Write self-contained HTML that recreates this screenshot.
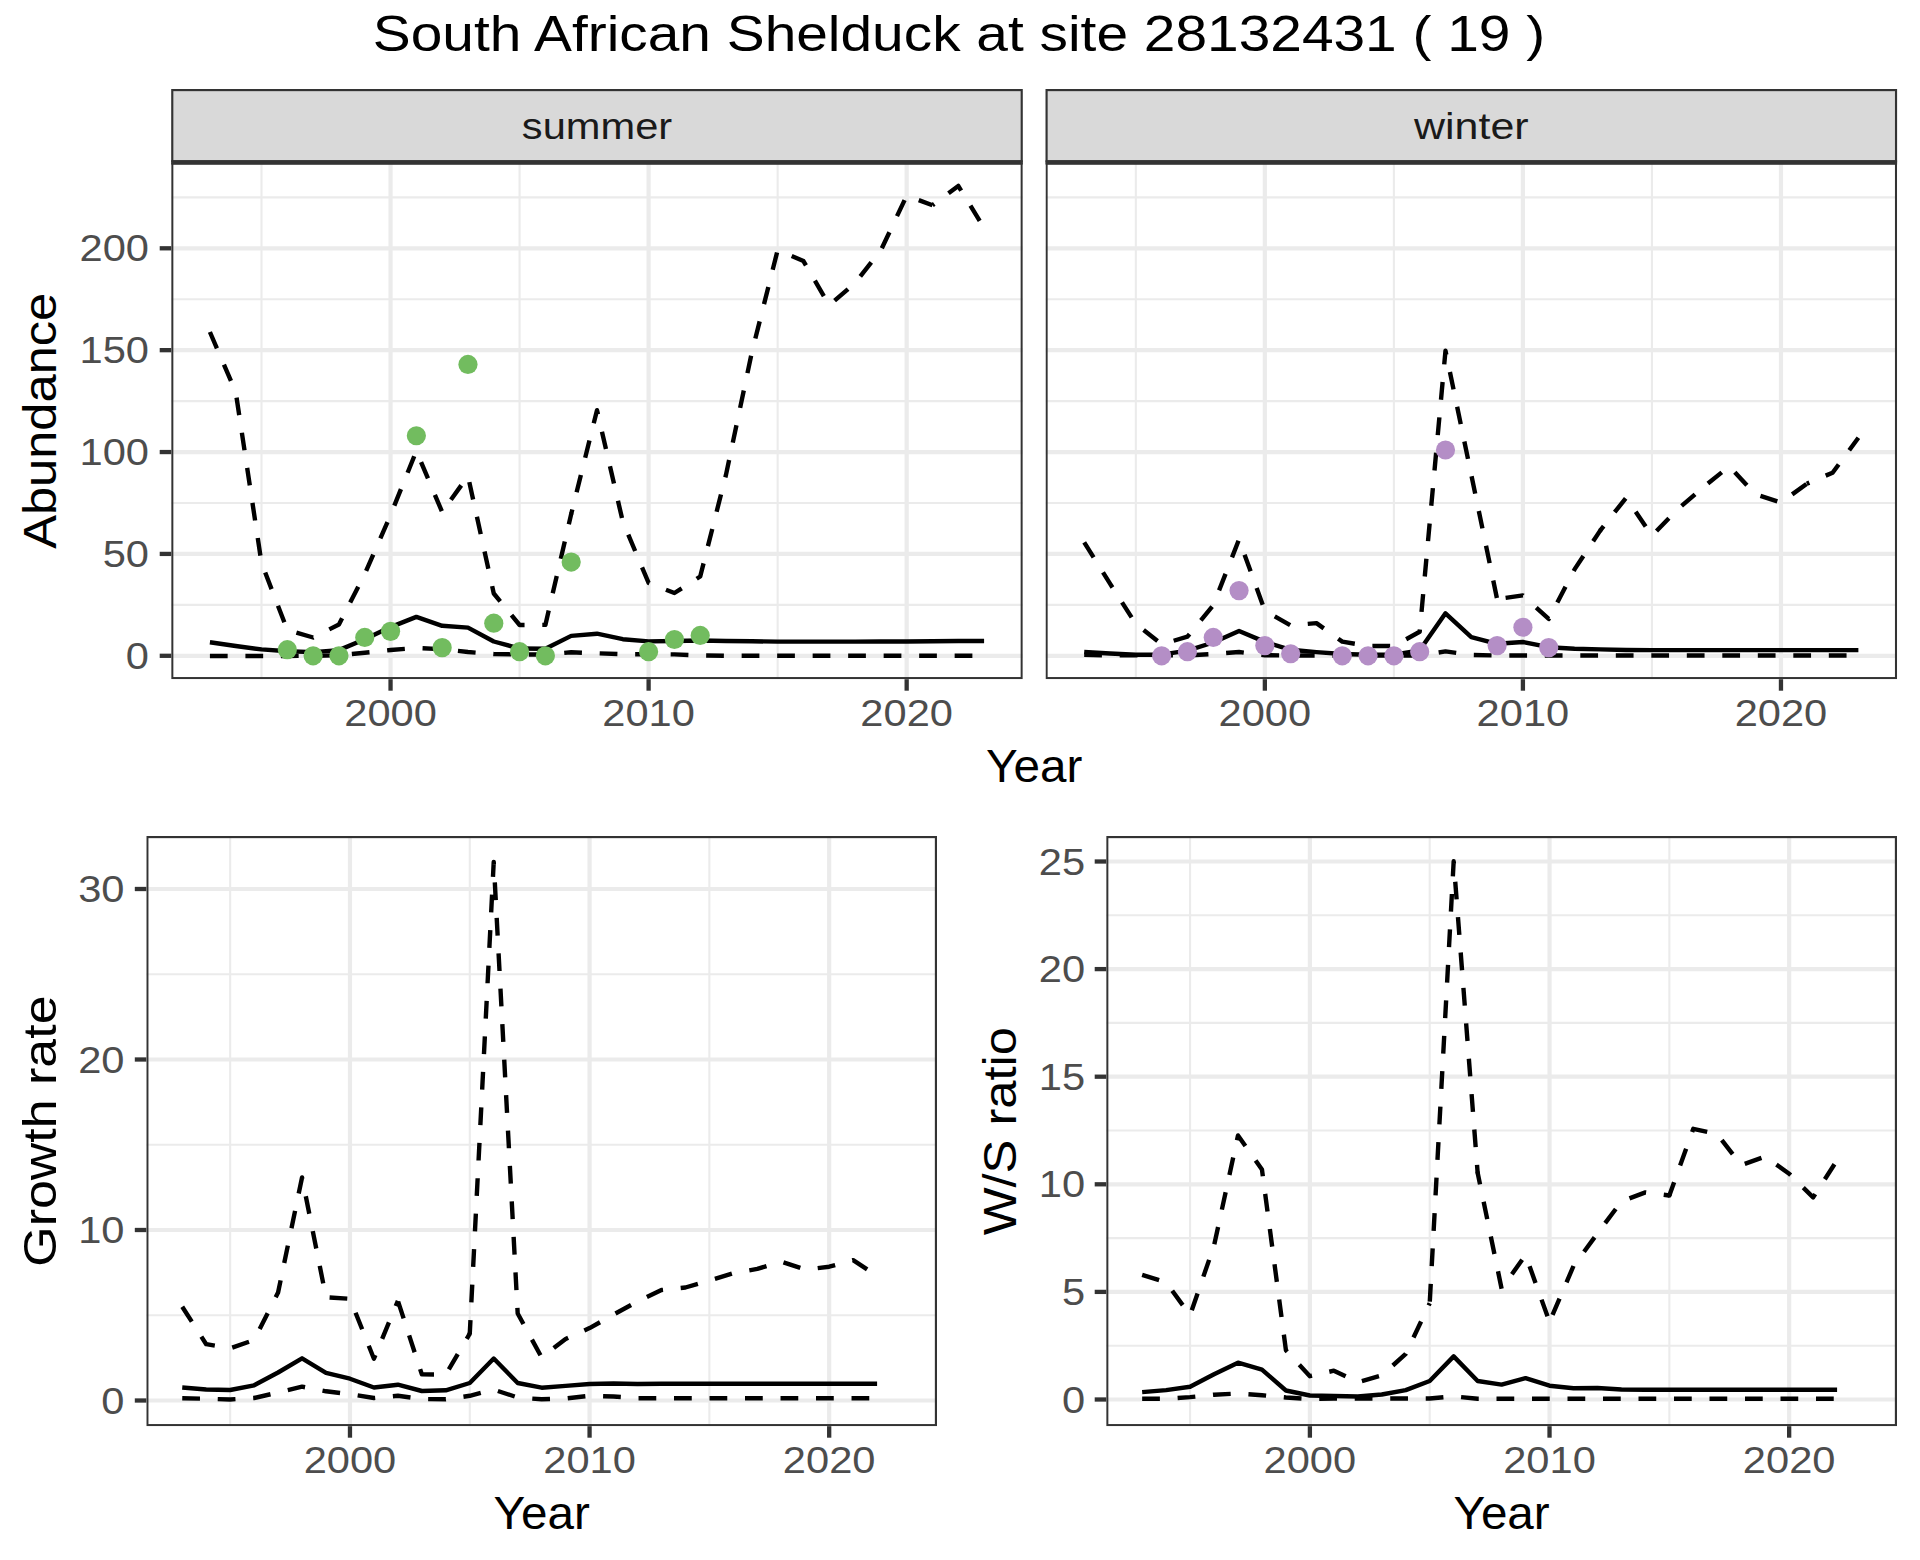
<!DOCTYPE html><html><head><meta charset="utf-8"><style>html,body{margin:0;padding:0;background:#fff;width:1920px;height:1560px;overflow:hidden}svg{display:block}text{font-family:"Liberation Sans", sans-serif}</style></head><body>
<svg width="1920" height="1560" viewBox="0 0 1920 1560">
<rect width="1920" height="1560" fill="#fff"/>
<text x="959.00" y="51.00" font-size="50.0" fill="#000" text-anchor="middle" textLength="1172.40" lengthAdjust="spacingAndGlyphs">South African Shelduck at site 28132431 ( 19 )</text>
<clipPath id="c1"><rect x="171.2" y="162.4" width="851.60" height="516.80"/></clipPath>
<g clip-path="url(#c1)">
<line x1="171.2" x2="1022.8" y1="604.86" y2="604.86" stroke="#EBEBEB" stroke-width="2.1"/>
<line x1="171.2" x2="1022.8" y1="502.99" y2="502.99" stroke="#EBEBEB" stroke-width="2.1"/>
<line x1="171.2" x2="1022.8" y1="401.11" y2="401.11" stroke="#EBEBEB" stroke-width="2.1"/>
<line x1="171.2" x2="1022.8" y1="299.24" y2="299.24" stroke="#EBEBEB" stroke-width="2.1"/>
<line x1="171.2" x2="1022.8" y1="197.36" y2="197.36" stroke="#EBEBEB" stroke-width="2.1"/>
<line x1="261.52" x2="261.52" y1="162.4" y2="679.2" stroke="#EBEBEB" stroke-width="2.1"/>
<line x1="519.58" x2="519.58" y1="162.4" y2="679.2" stroke="#EBEBEB" stroke-width="2.1"/>
<line x1="777.64" x2="777.64" y1="162.4" y2="679.2" stroke="#EBEBEB" stroke-width="2.1"/>
<line x1="171.2" x2="1022.8" y1="655.80" y2="655.80" stroke="#EBEBEB" stroke-width="4.2"/>
<line x1="171.2" x2="1022.8" y1="553.92" y2="553.92" stroke="#EBEBEB" stroke-width="4.2"/>
<line x1="171.2" x2="1022.8" y1="452.05" y2="452.05" stroke="#EBEBEB" stroke-width="4.2"/>
<line x1="171.2" x2="1022.8" y1="350.17" y2="350.17" stroke="#EBEBEB" stroke-width="4.2"/>
<line x1="171.2" x2="1022.8" y1="248.30" y2="248.30" stroke="#EBEBEB" stroke-width="4.2"/>
<line x1="390.55" x2="390.55" y1="162.4" y2="679.2" stroke="#EBEBEB" stroke-width="4.2"/>
<line x1="648.61" x2="648.61" y1="162.4" y2="679.2" stroke="#EBEBEB" stroke-width="4.2"/>
<line x1="906.67" x2="906.67" y1="162.4" y2="679.2" stroke="#EBEBEB" stroke-width="4.2"/>
<polyline points="209.91,332.00 235.72,392.00 261.52,563.00 287.33,630.00 313.13,637.50 338.94,624.50 364.75,574.00 390.55,515.00 416.36,451.00 442.16,512.00" fill="none" stroke="#000" stroke-width="4.4" stroke-linejoin="round" stroke-linecap="butt" stroke-dasharray="17.75 17.75" stroke-dashoffset="0.00"/>
<polyline points="442.16,512.00 467.97,476.00 493.78,593.50 519.58,625.00 545.39,624.90 571.19,514.00" fill="none" stroke="#000" stroke-width="4.4" stroke-linejoin="round" stroke-linecap="butt" stroke-dasharray="17.75 17.75" stroke-dashoffset="20.46"/>
<polyline points="571.19,514.00 597.00,410.20 622.81,521.70 648.61,582.90 674.42,593.00 700.22,576.50 726.03,474.60 751.84,352.40 777.64,250.10 803.45,261.10 829.25,305.30 855.06,283.00 880.87,250.30 906.67,195.70 932.48,205.20" fill="none" stroke="#000" stroke-width="4.4" stroke-linejoin="round" stroke-linecap="butt" stroke-dasharray="17.75 17.75" stroke-dashoffset="13.04"/>
<circle cx="571.19" cy="514.00" r="2.2" fill="#000"/>
<polyline points="932.48,205.20 958.28,185.90 984.09,228.00" fill="none" stroke="#000" stroke-width="4.4" stroke-linejoin="round" stroke-linecap="butt" stroke-dasharray="17.75 17.75" stroke-dashoffset="15.53"/>
<polyline points="209.91,656.00 235.72,656.00 261.52,656.00 287.33,656.00 313.13,655.80 338.94,655.30 364.75,652.80 390.55,650.00 416.36,648.00 442.16,649.20 467.97,652.00 493.78,654.00 519.58,654.50 545.39,654.50 571.19,652.30 597.00,653.30 622.81,654.20 648.61,654.20 674.42,654.40 700.22,655.40 726.03,655.80 751.84,655.80 777.64,655.80 803.45,655.80 829.25,655.80 855.06,655.80 880.87,655.80 906.67,655.80 932.48,655.80 958.28,655.80 984.09,655.80" fill="none" stroke="#000" stroke-width="4.4" stroke-linejoin="round" stroke-linecap="butt" stroke-dasharray="17.75 17.75" stroke-dashoffset="0.00"/>
<polyline points="209.91,642.20 235.72,646.00 261.52,649.40 287.33,651.20 313.13,652.10 338.94,650.10 364.75,639.30 390.55,627.10 416.36,616.90 442.16,625.80 467.97,627.60 493.78,641.50 519.58,648.50 545.39,648.70 571.19,635.90 597.00,633.70 622.81,639.20 648.61,641.40 674.42,641.00 700.22,640.50 726.03,641.00 751.84,641.30 777.64,641.60 803.45,641.60 829.25,641.60 855.06,641.60 880.87,641.50 906.67,641.50 932.48,641.30 958.28,641.00 984.09,641.00" fill="none" stroke="#000" stroke-width="4.4" stroke-linejoin="round" stroke-linecap="butt"/>
<circle cx="287.33" cy="649.69" r="9.6" fill="#72BC5F"/>
<circle cx="313.13" cy="655.80" r="9.6" fill="#72BC5F"/>
<circle cx="338.94" cy="655.80" r="9.6" fill="#72BC5F"/>
<circle cx="364.75" cy="637.46" r="9.6" fill="#72BC5F"/>
<circle cx="390.55" cy="631.35" r="9.6" fill="#72BC5F"/>
<circle cx="416.36" cy="435.75" r="9.6" fill="#72BC5F"/>
<circle cx="442.16" cy="647.65" r="9.6" fill="#72BC5F"/>
<circle cx="467.97" cy="364.44" r="9.6" fill="#72BC5F"/>
<circle cx="493.78" cy="623.20" r="9.6" fill="#72BC5F"/>
<circle cx="519.58" cy="651.72" r="9.6" fill="#72BC5F"/>
<circle cx="545.39" cy="655.80" r="9.6" fill="#72BC5F"/>
<circle cx="571.19" cy="562.07" r="9.6" fill="#72BC5F"/>
<circle cx="648.61" cy="651.72" r="9.6" fill="#72BC5F"/>
<circle cx="674.42" cy="639.50" r="9.6" fill="#72BC5F"/>
<circle cx="700.22" cy="635.42" r="9.6" fill="#72BC5F"/>
<rect x="172.27" y="163.47" width="849.45" height="514.65" fill="none" stroke="#333333" stroke-width="2.15"/>
</g>
<line x1="390.55" x2="390.55" y1="679.2" y2="690.7" stroke="#333333" stroke-width="4.3"/>
<text x="390.55" y="725.60" font-size="36.4" fill="#4D4D4D" text-anchor="middle" textLength="92.63" lengthAdjust="spacingAndGlyphs">2000</text>
<line x1="648.61" x2="648.61" y1="679.2" y2="690.7" stroke="#333333" stroke-width="4.3"/>
<text x="648.61" y="725.60" font-size="36.4" fill="#4D4D4D" text-anchor="middle" textLength="92.63" lengthAdjust="spacingAndGlyphs">2010</text>
<line x1="906.67" x2="906.67" y1="679.2" y2="690.7" stroke="#333333" stroke-width="4.3"/>
<text x="906.67" y="725.60" font-size="36.4" fill="#4D4D4D" text-anchor="middle" textLength="92.63" lengthAdjust="spacingAndGlyphs">2020</text>
<line x1="159.7" x2="171.2" y1="655.80" y2="655.80" stroke="#333333" stroke-width="4.3"/>
<text x="149.00" y="668.80" font-size="36.4" fill="#4D4D4D" text-anchor="end" textLength="23.16" lengthAdjust="spacingAndGlyphs">0</text>
<line x1="159.7" x2="171.2" y1="553.92" y2="553.92" stroke="#333333" stroke-width="4.3"/>
<text x="149.00" y="566.92" font-size="36.4" fill="#4D4D4D" text-anchor="end" textLength="46.32" lengthAdjust="spacingAndGlyphs">50</text>
<line x1="159.7" x2="171.2" y1="452.05" y2="452.05" stroke="#333333" stroke-width="4.3"/>
<text x="149.00" y="465.05" font-size="36.4" fill="#4D4D4D" text-anchor="end" textLength="69.48" lengthAdjust="spacingAndGlyphs">100</text>
<line x1="159.7" x2="171.2" y1="350.17" y2="350.17" stroke="#333333" stroke-width="4.3"/>
<text x="149.00" y="363.17" font-size="36.4" fill="#4D4D4D" text-anchor="end" textLength="69.48" lengthAdjust="spacingAndGlyphs">150</text>
<line x1="159.7" x2="171.2" y1="248.30" y2="248.30" stroke="#333333" stroke-width="4.3"/>
<text x="149.00" y="261.30" font-size="36.4" fill="#4D4D4D" text-anchor="end" textLength="69.48" lengthAdjust="spacingAndGlyphs">200</text>
<clipPath id="c2"><rect x="1045.5" y="162.4" width="851.60" height="516.80"/></clipPath>
<g clip-path="url(#c2)">
<line x1="1045.5" x2="1897.1" y1="604.86" y2="604.86" stroke="#EBEBEB" stroke-width="2.1"/>
<line x1="1045.5" x2="1897.1" y1="502.99" y2="502.99" stroke="#EBEBEB" stroke-width="2.1"/>
<line x1="1045.5" x2="1897.1" y1="401.11" y2="401.11" stroke="#EBEBEB" stroke-width="2.1"/>
<line x1="1045.5" x2="1897.1" y1="299.24" y2="299.24" stroke="#EBEBEB" stroke-width="2.1"/>
<line x1="1045.5" x2="1897.1" y1="197.36" y2="197.36" stroke="#EBEBEB" stroke-width="2.1"/>
<line x1="1135.82" x2="1135.82" y1="162.4" y2="679.2" stroke="#EBEBEB" stroke-width="2.1"/>
<line x1="1393.88" x2="1393.88" y1="162.4" y2="679.2" stroke="#EBEBEB" stroke-width="2.1"/>
<line x1="1651.94" x2="1651.94" y1="162.4" y2="679.2" stroke="#EBEBEB" stroke-width="2.1"/>
<line x1="1045.5" x2="1897.1" y1="655.80" y2="655.80" stroke="#EBEBEB" stroke-width="4.2"/>
<line x1="1045.5" x2="1897.1" y1="553.92" y2="553.92" stroke="#EBEBEB" stroke-width="4.2"/>
<line x1="1045.5" x2="1897.1" y1="452.05" y2="452.05" stroke="#EBEBEB" stroke-width="4.2"/>
<line x1="1045.5" x2="1897.1" y1="350.17" y2="350.17" stroke="#EBEBEB" stroke-width="4.2"/>
<line x1="1045.5" x2="1897.1" y1="248.30" y2="248.30" stroke="#EBEBEB" stroke-width="4.2"/>
<line x1="1264.85" x2="1264.85" y1="162.4" y2="679.2" stroke="#EBEBEB" stroke-width="4.2"/>
<line x1="1522.91" x2="1522.91" y1="162.4" y2="679.2" stroke="#EBEBEB" stroke-width="4.2"/>
<line x1="1780.97" x2="1780.97" y1="162.4" y2="679.2" stroke="#EBEBEB" stroke-width="4.2"/>
<polyline points="1084.21,542.30 1110.02,583.70 1135.82,623.90 1161.63,644.30 1187.43,636.70 1213.24,605.30 1239.05,539.40 1264.85,610.70 1290.66,625.50 1316.46,623.10 1342.27,641.60 1368.08,646.00 1393.88,646.00 1419.69,631.80 1445.49,350.70 1471.30,474.90 1497.11,599.10" fill="none" stroke="#000" stroke-width="4.4" stroke-linejoin="round" stroke-linecap="butt" stroke-dasharray="17.75 17.75" stroke-dashoffset="0.00"/>
<polyline points="1497.11,599.10 1522.91,595.40 1548.72,618.90 1574.52,569.40 1600.33,530.40" fill="none" stroke="#000" stroke-width="4.4" stroke-linejoin="round" stroke-linecap="butt" stroke-dasharray="17.75 17.75" stroke-dashoffset="26.93"/>
<polyline points="1600.33,530.40 1626.14,497.70 1651.94,535.70 1677.75,509.20 1703.55,487.00" fill="none" stroke="#000" stroke-width="4.4" stroke-linejoin="round" stroke-linecap="butt" stroke-dasharray="17.75 17.75" stroke-dashoffset="12.34"/>
<circle cx="1600.33" cy="530.40" r="2.2" fill="#000"/>
<polyline points="1703.55,487.00 1729.36,466.30 1755.17,494.10 1780.97,502.60 1806.78,483.70" fill="none" stroke="#000" stroke-width="4.4" stroke-linejoin="round" stroke-linecap="butt" stroke-dasharray="17.75 17.75" stroke-dashoffset="29.92"/>
<polyline points="1806.78,483.70 1832.58,472.70 1858.39,437.80" fill="none" stroke="#000" stroke-width="4.4" stroke-linejoin="round" stroke-linecap="butt" stroke-dasharray="17.75 17.75" stroke-dashoffset="14.95"/>
<polyline points="1084.21,654.70 1110.02,655.40 1135.82,655.40 1161.63,655.40 1187.43,655.40 1213.24,654.00 1239.05,652.00 1264.85,655.20 1290.66,655.50 1316.46,655.50 1342.27,655.50 1368.08,655.50 1393.88,655.50 1419.69,655.50 1445.49,651.40 1471.30,655.00 1497.11,655.50 1522.91,655.50 1548.72,655.50 1574.52,655.50 1600.33,655.50 1626.14,655.50 1651.94,655.50 1677.75,655.50 1703.55,655.50 1729.36,655.50 1755.17,655.50 1780.97,655.50 1806.78,655.50 1832.58,655.50 1858.39,655.50" fill="none" stroke="#000" stroke-width="4.4" stroke-linejoin="round" stroke-linecap="butt" stroke-dasharray="17.75 17.75" stroke-dashoffset="0.00"/>
<polyline points="1084.21,652.00 1110.02,653.50 1135.82,654.70 1161.63,654.70 1187.43,650.70 1213.24,642.50 1239.05,631.00 1264.85,641.90 1290.66,649.80 1316.46,652.10 1342.27,654.00 1368.08,654.70 1393.88,654.70 1419.69,650.30 1445.49,613.30 1471.30,637.20 1497.11,643.80 1522.91,642.00 1548.72,647.20 1574.52,648.70 1600.33,649.40 1626.14,650.00 1651.94,650.10 1677.75,650.10 1703.55,650.10 1729.36,650.10 1755.17,650.10 1780.97,650.10 1806.78,650.10 1832.58,650.10 1858.39,650.10" fill="none" stroke="#000" stroke-width="4.4" stroke-linejoin="round" stroke-linecap="butt"/>
<circle cx="1161.63" cy="655.80" r="9.6" fill="#B48EC6"/>
<circle cx="1187.43" cy="651.72" r="9.6" fill="#B48EC6"/>
<circle cx="1213.24" cy="637.46" r="9.6" fill="#B48EC6"/>
<circle cx="1239.05" cy="590.60" r="9.6" fill="#B48EC6"/>
<circle cx="1264.85" cy="645.61" r="9.6" fill="#B48EC6"/>
<circle cx="1290.66" cy="653.76" r="9.6" fill="#B48EC6"/>
<circle cx="1342.27" cy="655.80" r="9.6" fill="#B48EC6"/>
<circle cx="1368.08" cy="655.80" r="9.6" fill="#B48EC6"/>
<circle cx="1393.88" cy="655.80" r="9.6" fill="#B48EC6"/>
<circle cx="1419.69" cy="651.72" r="9.6" fill="#B48EC6"/>
<circle cx="1445.49" cy="450.01" r="9.6" fill="#B48EC6"/>
<circle cx="1497.11" cy="645.61" r="9.6" fill="#B48EC6"/>
<circle cx="1522.91" cy="627.27" r="9.6" fill="#B48EC6"/>
<circle cx="1548.72" cy="647.65" r="9.6" fill="#B48EC6"/>
<rect x="1046.58" y="163.47" width="849.45" height="514.65" fill="none" stroke="#333333" stroke-width="2.15"/>
</g>
<line x1="1264.85" x2="1264.85" y1="679.2" y2="690.7" stroke="#333333" stroke-width="4.3"/>
<text x="1264.85" y="725.60" font-size="36.4" fill="#4D4D4D" text-anchor="middle" textLength="92.63" lengthAdjust="spacingAndGlyphs">2000</text>
<line x1="1522.91" x2="1522.91" y1="679.2" y2="690.7" stroke="#333333" stroke-width="4.3"/>
<text x="1522.91" y="725.60" font-size="36.4" fill="#4D4D4D" text-anchor="middle" textLength="92.63" lengthAdjust="spacingAndGlyphs">2010</text>
<line x1="1780.97" x2="1780.97" y1="679.2" y2="690.7" stroke="#333333" stroke-width="4.3"/>
<text x="1780.97" y="725.60" font-size="36.4" fill="#4D4D4D" text-anchor="middle" textLength="92.63" lengthAdjust="spacingAndGlyphs">2020</text>
<rect x="172.27" y="90.08" width="849.45" height="71.25" fill="#D9D9D9" stroke="#333333" stroke-width="2.15"/>
<rect x="171.20" y="160.25" width="851.60" height="4.30" fill="#333333"/>
<text x="597.00" y="138.50" font-size="36.4" fill="#1A1A1A" text-anchor="middle" textLength="150.31" lengthAdjust="spacingAndGlyphs">summer</text>
<rect x="1046.58" y="90.08" width="849.45" height="71.25" fill="#D9D9D9" stroke="#333333" stroke-width="2.15"/>
<rect x="1045.50" y="160.25" width="851.60" height="4.30" fill="#333333"/>
<text x="1471.30" y="138.50" font-size="36.4" fill="#1A1A1A" text-anchor="middle" textLength="114.59" lengthAdjust="spacingAndGlyphs">winter</text>
<text x="1034.15" y="781.70" font-size="45.45" fill="#000" text-anchor="middle" textLength="96.23" lengthAdjust="spacingAndGlyphs">Year</text>
<text x="56.30" y="420.80" font-size="45.45" fill="#000" text-anchor="middle" textLength="256.01" lengthAdjust="spacingAndGlyphs" transform="rotate(-90 56.30 420.80)">Abundance</text>
<clipPath id="c3"><rect x="146.3" y="836.0" width="790.70" height="590.20"/></clipPath>
<g clip-path="url(#c3)">
<line x1="146.3" x2="937.0" y1="1315.25" y2="1315.25" stroke="#EBEBEB" stroke-width="2.1"/>
<line x1="146.3" x2="937.0" y1="1144.75" y2="1144.75" stroke="#EBEBEB" stroke-width="2.1"/>
<line x1="146.3" x2="937.0" y1="974.25" y2="974.25" stroke="#EBEBEB" stroke-width="2.1"/>
<line x1="230.16" x2="230.16" y1="836.0" y2="1426.2" stroke="#EBEBEB" stroke-width="2.1"/>
<line x1="469.77" x2="469.77" y1="836.0" y2="1426.2" stroke="#EBEBEB" stroke-width="2.1"/>
<line x1="709.37" x2="709.37" y1="836.0" y2="1426.2" stroke="#EBEBEB" stroke-width="2.1"/>
<line x1="146.3" x2="937.0" y1="1400.50" y2="1400.50" stroke="#EBEBEB" stroke-width="4.2"/>
<line x1="146.3" x2="937.0" y1="1230.00" y2="1230.00" stroke="#EBEBEB" stroke-width="4.2"/>
<line x1="146.3" x2="937.0" y1="1059.50" y2="1059.50" stroke="#EBEBEB" stroke-width="4.2"/>
<line x1="146.3" x2="937.0" y1="889.00" y2="889.00" stroke="#EBEBEB" stroke-width="4.2"/>
<line x1="349.97" x2="349.97" y1="836.0" y2="1426.2" stroke="#EBEBEB" stroke-width="4.2"/>
<line x1="589.57" x2="589.57" y1="836.0" y2="1426.2" stroke="#EBEBEB" stroke-width="4.2"/>
<line x1="829.18" x2="829.18" y1="836.0" y2="1426.2" stroke="#EBEBEB" stroke-width="4.2"/>
<polyline points="182.24,1306.70 206.20,1344.20 230.16,1348.30 254.12,1340.00 278.08,1292.50 302.04,1177.50 326.00,1297.20 349.97,1298.80 373.93,1358.70 397.89,1300.80" fill="none" stroke="#000" stroke-width="4.4" stroke-linejoin="round" stroke-linecap="butt" stroke-dasharray="17.75 17.75" stroke-dashoffset="0.00"/>
<polyline points="397.89,1300.80 421.85,1374.40 445.81,1374.60 469.77,1333.60" fill="none" stroke="#000" stroke-width="4.4" stroke-linejoin="round" stroke-linecap="butt" stroke-dasharray="17.75 17.75" stroke-dashoffset="34.70"/>
<polyline points="469.77,1333.60 493.73,861.90 517.69,1313.50 541.65,1357.40 565.61,1339.00 589.57,1328.10 613.53,1314.60 637.49,1301.50 661.45,1290.00 685.41,1287.50 709.37,1280.50 733.33,1273.20 757.30,1268.90 781.26,1261.60 805.22,1269.60 829.18,1266.70 853.14,1260.10 877.10,1276.10" fill="none" stroke="#000" stroke-width="4.4" stroke-linejoin="round" stroke-linecap="butt" stroke-dasharray="17.75 17.75" stroke-dashoffset="4.19"/>
<circle cx="469.77" cy="1333.60" r="2.2" fill="#000"/>
<polyline points="182.24,1398.30 206.20,1398.80 230.16,1399.50 254.12,1398.00 278.08,1392.50 302.04,1386.70 326.00,1391.30 349.97,1394.20 373.93,1398.00 397.89,1395.80 421.85,1399.00 445.81,1399.30 469.77,1395.80 493.73,1389.60 517.69,1397.50 541.65,1399.30 565.61,1398.50 589.57,1395.80 613.53,1396.50 637.49,1398.20 661.45,1398.20 685.41,1398.20 709.37,1398.20 733.33,1398.20 757.30,1398.20 781.26,1398.20 805.22,1398.20 829.18,1398.20 853.14,1398.20 877.10,1398.20" fill="none" stroke="#000" stroke-width="4.4" stroke-linejoin="round" stroke-linecap="butt" stroke-dasharray="17.75 17.75" stroke-dashoffset="0.00"/>
<polyline points="182.24,1387.50 206.20,1389.50 230.16,1390.00 254.12,1385.30 278.08,1372.50 302.04,1358.30 326.00,1372.80 349.97,1378.70 373.93,1387.50 397.89,1384.70 421.85,1391.00 445.81,1390.30 469.77,1383.00 493.73,1358.50 517.69,1383.00 541.65,1387.70 565.61,1385.90 589.57,1384.00 613.53,1383.50 637.49,1384.00 661.45,1383.80 685.41,1383.80 709.37,1383.80 733.33,1383.80 757.30,1383.80 781.26,1383.80 805.22,1383.80 829.18,1383.80 853.14,1383.80 877.10,1383.80" fill="none" stroke="#000" stroke-width="4.4" stroke-linejoin="round" stroke-linecap="butt"/>
<rect x="147.38" y="837.08" width="788.55" height="588.05" fill="none" stroke="#333333" stroke-width="2.15"/>
</g>
<line x1="349.97" x2="349.97" y1="1426.2" y2="1437.7" stroke="#333333" stroke-width="4.3"/>
<text x="349.97" y="1472.60" font-size="36.4" fill="#4D4D4D" text-anchor="middle" textLength="92.63" lengthAdjust="spacingAndGlyphs">2000</text>
<line x1="589.57" x2="589.57" y1="1426.2" y2="1437.7" stroke="#333333" stroke-width="4.3"/>
<text x="589.57" y="1472.60" font-size="36.4" fill="#4D4D4D" text-anchor="middle" textLength="92.63" lengthAdjust="spacingAndGlyphs">2010</text>
<line x1="829.18" x2="829.18" y1="1426.2" y2="1437.7" stroke="#333333" stroke-width="4.3"/>
<text x="829.18" y="1472.60" font-size="36.4" fill="#4D4D4D" text-anchor="middle" textLength="92.63" lengthAdjust="spacingAndGlyphs">2020</text>
<line x1="134.8" x2="146.3" y1="1400.50" y2="1400.50" stroke="#333333" stroke-width="4.3"/>
<text x="124.50" y="1413.50" font-size="36.4" fill="#4D4D4D" text-anchor="end" textLength="23.16" lengthAdjust="spacingAndGlyphs">0</text>
<line x1="134.8" x2="146.3" y1="1230.00" y2="1230.00" stroke="#333333" stroke-width="4.3"/>
<text x="124.50" y="1243.00" font-size="36.4" fill="#4D4D4D" text-anchor="end" textLength="46.32" lengthAdjust="spacingAndGlyphs">10</text>
<line x1="134.8" x2="146.3" y1="1059.50" y2="1059.50" stroke="#333333" stroke-width="4.3"/>
<text x="124.50" y="1072.50" font-size="36.4" fill="#4D4D4D" text-anchor="end" textLength="46.32" lengthAdjust="spacingAndGlyphs">20</text>
<line x1="134.8" x2="146.3" y1="889.00" y2="889.00" stroke="#333333" stroke-width="4.3"/>
<text x="124.50" y="902.00" font-size="36.4" fill="#4D4D4D" text-anchor="end" textLength="46.32" lengthAdjust="spacingAndGlyphs">30</text>
<text x="541.65" y="1528.75" font-size="45.45" fill="#000" text-anchor="middle" textLength="96.23" lengthAdjust="spacingAndGlyphs">Year</text>
<text x="56.20" y="1131.10" font-size="45.45" fill="#000" text-anchor="middle" textLength="271.28" lengthAdjust="spacingAndGlyphs" transform="rotate(-90 56.20 1131.10)">Growth rate</text>
<clipPath id="c4"><rect x="1106.2" y="836.0" width="790.80" height="590.20"/></clipPath>
<g clip-path="url(#c4)">
<line x1="1106.2" x2="1897.0" y1="1345.70" y2="1345.70" stroke="#EBEBEB" stroke-width="2.1"/>
<line x1="1106.2" x2="1897.0" y1="1238.10" y2="1238.10" stroke="#EBEBEB" stroke-width="2.1"/>
<line x1="1106.2" x2="1897.0" y1="1130.50" y2="1130.50" stroke="#EBEBEB" stroke-width="2.1"/>
<line x1="1106.2" x2="1897.0" y1="1022.90" y2="1022.90" stroke="#EBEBEB" stroke-width="2.1"/>
<line x1="1106.2" x2="1897.0" y1="915.30" y2="915.30" stroke="#EBEBEB" stroke-width="2.1"/>
<line x1="1190.07" x2="1190.07" y1="836.0" y2="1426.2" stroke="#EBEBEB" stroke-width="2.1"/>
<line x1="1429.71" x2="1429.71" y1="836.0" y2="1426.2" stroke="#EBEBEB" stroke-width="2.1"/>
<line x1="1669.35" x2="1669.35" y1="836.0" y2="1426.2" stroke="#EBEBEB" stroke-width="2.1"/>
<line x1="1106.2" x2="1897.0" y1="1399.50" y2="1399.50" stroke="#EBEBEB" stroke-width="4.2"/>
<line x1="1106.2" x2="1897.0" y1="1291.90" y2="1291.90" stroke="#EBEBEB" stroke-width="4.2"/>
<line x1="1106.2" x2="1897.0" y1="1184.30" y2="1184.30" stroke="#EBEBEB" stroke-width="4.2"/>
<line x1="1106.2" x2="1897.0" y1="1076.70" y2="1076.70" stroke="#EBEBEB" stroke-width="4.2"/>
<line x1="1106.2" x2="1897.0" y1="969.10" y2="969.10" stroke="#EBEBEB" stroke-width="4.2"/>
<line x1="1106.2" x2="1897.0" y1="861.50" y2="861.50" stroke="#EBEBEB" stroke-width="4.2"/>
<line x1="1309.89" x2="1309.89" y1="836.0" y2="1426.2" stroke="#EBEBEB" stroke-width="4.2"/>
<line x1="1549.53" x2="1549.53" y1="836.0" y2="1426.2" stroke="#EBEBEB" stroke-width="4.2"/>
<line x1="1789.16" x2="1789.16" y1="836.0" y2="1426.2" stroke="#EBEBEB" stroke-width="4.2"/>
<polyline points="1142.15,1274.90 1166.11,1282.40 1190.07,1315.20 1214.04,1245.60" fill="none" stroke="#000" stroke-width="4.4" stroke-linejoin="round" stroke-linecap="butt" stroke-dasharray="17.75 17.75" stroke-dashoffset="0.00"/>
<polyline points="1214.04,1245.60 1238.00,1135.50 1261.96,1169.60 1285.93,1350.30 1309.89,1376.20 1333.85,1370.70 1357.82,1382.20 1381.78,1375.40 1405.75,1353.90 1429.71,1303.20" fill="none" stroke="#000" stroke-width="4.4" stroke-linejoin="round" stroke-linecap="butt" stroke-dasharray="17.75 17.75" stroke-dashoffset="34.17"/>
<polyline points="1429.71,1303.20 1453.67,861.30 1477.64,1172.80" fill="none" stroke="#000" stroke-width="4.4" stroke-linejoin="round" stroke-linecap="butt" stroke-dasharray="17.75 17.75" stroke-dashoffset="33.95"/>
<polyline points="1477.64,1172.80 1501.60,1288.70 1525.56,1255.00 1549.53,1322.00" fill="none" stroke="#000" stroke-width="4.4" stroke-linejoin="round" stroke-linecap="butt" stroke-dasharray="17.75 17.75" stroke-dashoffset="5.90"/>
<circle cx="1477.64" cy="1172.80" r="2.2" fill="#000"/>
<polyline points="1549.53,1322.00 1573.49,1266.00 1597.45,1233.50 1621.42,1201.40" fill="none" stroke="#000" stroke-width="4.4" stroke-linejoin="round" stroke-linecap="butt" stroke-dasharray="17.75 17.75" stroke-dashoffset="27.84"/>
<polyline points="1621.42,1201.40 1645.38,1192.40 1669.35,1195.50" fill="none" stroke="#000" stroke-width="4.4" stroke-linejoin="round" stroke-linecap="butt" stroke-dasharray="17.75 17.75" stroke-dashoffset="26.90"/>
<polyline points="1669.35,1195.50 1693.31,1128.80 1717.27,1134.20 1741.24,1165.20 1765.20,1156.60 1789.16,1173.70 1813.13,1197.40 1837.09,1160.20" fill="none" stroke="#000" stroke-width="4.4" stroke-linejoin="round" stroke-linecap="butt" stroke-dasharray="17.75 17.75" stroke-dashoffset="3.63"/>
<circle cx="1669.35" cy="1195.50" r="2.2" fill="#000"/>
<polyline points="1142.15,1398.70 1166.11,1398.70 1190.07,1397.10 1214.04,1394.70 1238.00,1393.50 1261.96,1395.20 1285.93,1397.50 1309.89,1399.00 1333.85,1398.50 1357.82,1398.50 1381.78,1398.50 1405.75,1398.50 1429.71,1398.50 1453.67,1396.30 1477.64,1398.80 1501.60,1398.80 1525.56,1398.80 1549.53,1398.80 1573.49,1398.80 1597.45,1398.80 1621.42,1398.80 1645.38,1398.80 1669.35,1398.80 1693.31,1398.80 1717.27,1398.80 1741.24,1398.80 1765.20,1398.80 1789.16,1398.80 1813.13,1398.80 1837.09,1398.80" fill="none" stroke="#000" stroke-width="4.4" stroke-linejoin="round" stroke-linecap="butt" stroke-dasharray="17.75 17.75" stroke-dashoffset="0.00"/>
<polyline points="1142.15,1392.10 1166.11,1390.10 1190.07,1386.80 1214.04,1374.20 1238.00,1362.70 1261.96,1369.70 1285.93,1390.50 1309.89,1395.50 1333.85,1396.00 1357.82,1396.50 1381.78,1394.50 1405.75,1390.10 1429.71,1381.00 1453.67,1356.40 1477.64,1381.00 1501.60,1384.60 1525.56,1378.10 1549.53,1385.70 1573.49,1388.30 1597.45,1388.00 1621.42,1389.50 1645.38,1389.80 1669.35,1389.80 1693.31,1389.80 1717.27,1389.80 1741.24,1389.80 1765.20,1389.80 1789.16,1389.80 1813.13,1389.80 1837.09,1389.80" fill="none" stroke="#000" stroke-width="4.4" stroke-linejoin="round" stroke-linecap="butt"/>
<rect x="1107.28" y="837.08" width="788.65" height="588.05" fill="none" stroke="#333333" stroke-width="2.15"/>
</g>
<line x1="1309.89" x2="1309.89" y1="1426.2" y2="1437.7" stroke="#333333" stroke-width="4.3"/>
<text x="1309.89" y="1472.60" font-size="36.4" fill="#4D4D4D" text-anchor="middle" textLength="92.63" lengthAdjust="spacingAndGlyphs">2000</text>
<line x1="1549.53" x2="1549.53" y1="1426.2" y2="1437.7" stroke="#333333" stroke-width="4.3"/>
<text x="1549.53" y="1472.60" font-size="36.4" fill="#4D4D4D" text-anchor="middle" textLength="92.63" lengthAdjust="spacingAndGlyphs">2010</text>
<line x1="1789.16" x2="1789.16" y1="1426.2" y2="1437.7" stroke="#333333" stroke-width="4.3"/>
<text x="1789.16" y="1472.60" font-size="36.4" fill="#4D4D4D" text-anchor="middle" textLength="92.63" lengthAdjust="spacingAndGlyphs">2020</text>
<line x1="1094.7" x2="1106.2" y1="1399.50" y2="1399.50" stroke="#333333" stroke-width="4.3"/>
<text x="1085.20" y="1412.50" font-size="36.4" fill="#4D4D4D" text-anchor="end" textLength="23.16" lengthAdjust="spacingAndGlyphs">0</text>
<line x1="1094.7" x2="1106.2" y1="1291.90" y2="1291.90" stroke="#333333" stroke-width="4.3"/>
<text x="1085.20" y="1304.90" font-size="36.4" fill="#4D4D4D" text-anchor="end" textLength="23.16" lengthAdjust="spacingAndGlyphs">5</text>
<line x1="1094.7" x2="1106.2" y1="1184.30" y2="1184.30" stroke="#333333" stroke-width="4.3"/>
<text x="1085.20" y="1197.30" font-size="36.4" fill="#4D4D4D" text-anchor="end" textLength="46.32" lengthAdjust="spacingAndGlyphs">10</text>
<line x1="1094.7" x2="1106.2" y1="1076.70" y2="1076.70" stroke="#333333" stroke-width="4.3"/>
<text x="1085.20" y="1089.70" font-size="36.4" fill="#4D4D4D" text-anchor="end" textLength="46.32" lengthAdjust="spacingAndGlyphs">15</text>
<line x1="1094.7" x2="1106.2" y1="969.10" y2="969.10" stroke="#333333" stroke-width="4.3"/>
<text x="1085.20" y="982.10" font-size="36.4" fill="#4D4D4D" text-anchor="end" textLength="46.32" lengthAdjust="spacingAndGlyphs">20</text>
<line x1="1094.7" x2="1106.2" y1="861.50" y2="861.50" stroke="#333333" stroke-width="4.3"/>
<text x="1085.20" y="874.50" font-size="36.4" fill="#4D4D4D" text-anchor="end" textLength="46.32" lengthAdjust="spacingAndGlyphs">25</text>
<text x="1501.60" y="1528.75" font-size="45.45" fill="#000" text-anchor="middle" textLength="96.23" lengthAdjust="spacingAndGlyphs">Year</text>
<text x="1015.80" y="1131.10" font-size="45.45" fill="#000" text-anchor="middle" textLength="208.34" lengthAdjust="spacingAndGlyphs" transform="rotate(-90 1015.80 1131.10)">W/S ratio</text>
</svg></body></html>
